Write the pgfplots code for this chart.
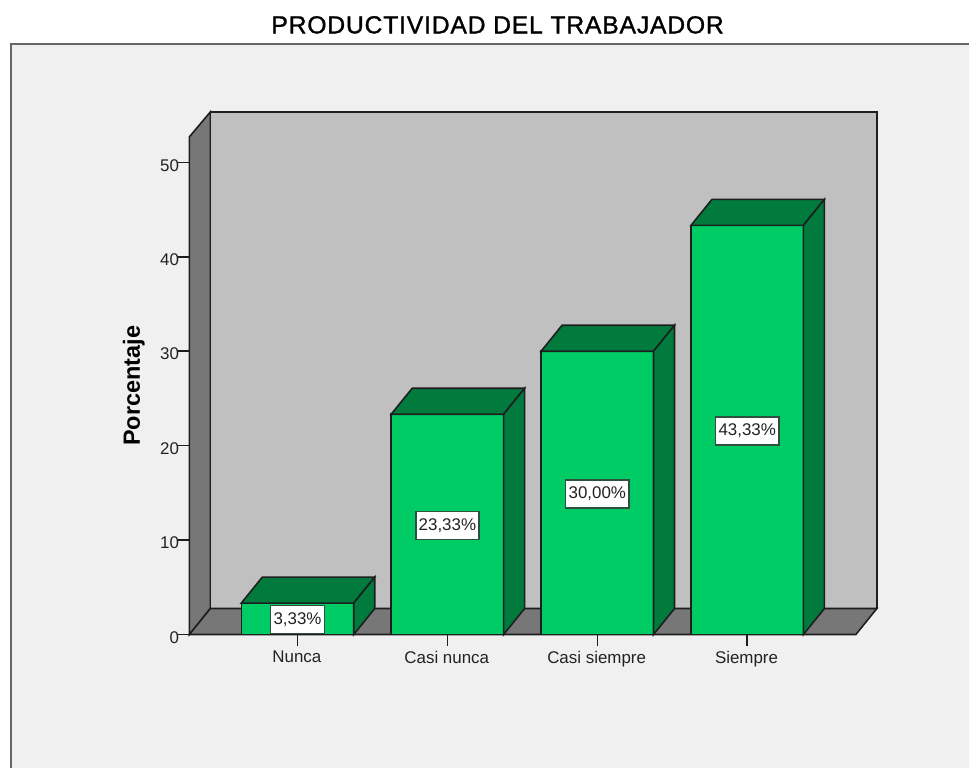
\documentclass[border=0pt]{standalone}
\usepackage{pgfplots}
\usepackage{pgfplotstable}
\pgfplotsset{compat=1.18}
\usepackage{fontspec}
\setmainfont{Liberation Sans}
\newfontfamily\titlefont[FakeBold=1.2,LetterSpace=3.4]{Liberation Sans}
\definecolor{bgc}{HTML}{F0F0F0}
\definecolor{wallc}{HTML}{C0C0C0}
\definecolor{sidec}{HTML}{777777}
\definecolor{barf}{HTML}{00CC66}
\definecolor{bard}{HTML}{007A3D}
\definecolor{linec}{HTML}{1E1E1E}
\definecolor{framec}{HTML}{666666}
\definecolor{txt}{HTML}{222222}
\definecolor{boxc}{HTML}{2F4F3F}
\pgfplotstableread{
x v label
0 3.33 3,33
1 23.33 23,33
2 30.00 30,00
3 43.33 43,33
}\bardata
\begin{document}
\begin{tikzpicture}
\fill[white] (0pt,0pt) rectangle (727.5pt,576.75pt);
\fill[bgc] (8.25pt,0pt) rectangle (727.5pt,543.75pt);
\draw[framec,line width=1.1pt] (8.25pt,0pt) -- (8.25pt,543.75pt) -- (727.5pt,543.75pt);
\begin{axis}[
  at={(142.125pt,100.5pt)},anchor=south west,
  scale only axis,width=500.25pt,height=373.5pt,
  xmin=-0.7217,xmax=3.725,ymin=0,ymax=52.7,
  clip=false,
  axis x line*=bottom,axis y line*=left,
  axis line style={linec,line width=1.2pt,-},
  xtick={0,1,2,3},
  xticklabels={Nunca,Casi nunca,Casi siempre,Siempre},
  ytick={0,10,20,30,40,50},
  tick style={linec,line width=1.2pt},
  tickwidth=8.25pt,
  tick align=outside,
  /pgf/number format/assume math mode=true,
  tick label style={font=\fontsize{12.7}{14}\selectfont,text=txt},
  xticklabel style={yshift=-0.5pt,xshift=-0.5pt},
  yticklabel style={xshift=4pt,yshift=-2.2pt},
  title={\titlefont PRODUCTIVIDAD DEL TRABAJADOR},
  title style={at={(rel axis cs:0.4625,1.209)},anchor=center,font=\fontsize{18.5}{20}\selectfont,text=black},
  ylabel={\textbf{Porcentaje}},
  ylabel style={at={(rel axis cs:-0.0832,0.5)},anchor=center,font=\fontsize{17.6}{19}\selectfont,text=black},
]
% walls
\addplot[fill=sidec,draw=linec,line width=1.2pt] coordinates {(-0.7217,0) (-0.7217,52.7) (-0.5817,55.34) (-0.5817,2.75)} --cycle;
\addplot[fill=wallc,draw=linec,line width=1.2pt] coordinates {(-0.5817,2.75) (-0.5817,55.34) (3.865,55.34) (3.865,2.75)} --cycle;
\addplot[fill=sidec,draw=linec,line width=1.2pt] coordinates {(-0.7217,0) (3.725,0) (3.865,2.75) (-0.5817,2.75)} --cycle;
% bar faces
\addplot[ybar,bar width=84.4pt,fill=barf,draw=linec,line width=1.2pt] table[x=x,y=v] {\bardata};
% bar tops
\addplot[fill=bard,draw=linec,line width=1.2pt] coordinates {(-0.375,3.33) (0.375,3.33) (0.515,6.08) (-0.235,6.08)} --cycle;
\addplot[fill=bard,draw=linec,line width=1.2pt] coordinates {(0.625,23.33) (1.375,23.33) (1.515,26.08) (0.765,26.08)} --cycle;
\addplot[fill=bard,draw=linec,line width=1.2pt] coordinates {(1.625,30) (2.375,30) (2.515,32.75) (1.765,32.75)} --cycle;
\addplot[fill=bard,draw=linec,line width=1.2pt] coordinates {(2.625,43.33) (3.375,43.33) (3.515,46.08) (2.765,46.08)} --cycle;
% bar sides
\addplot[fill=bard,draw=linec,line width=1.2pt] coordinates {(0.375,0) (0.515,2.75) (0.515,6.08) (0.375,3.33)} --cycle;
\addplot[fill=bard,draw=linec,line width=1.2pt] coordinates {(1.375,0) (1.515,2.75) (1.515,26.08) (1.375,23.33)} --cycle;
\addplot[fill=bard,draw=linec,line width=1.2pt] coordinates {(2.375,0) (2.515,2.75) (2.515,32.75) (2.375,30)} --cycle;
\addplot[fill=bard,draw=linec,line width=1.2pt] coordinates {(3.375,0) (3.515,2.75) (3.515,46.08) (3.375,43.33)} --cycle;
% value labels
\addplot[draw=none,mark=none,point meta=explicit symbolic,
  nodes near coords={\pgfplotspointmeta\%},
  nodes near coords align={center},
  every node near coord/.style={fill=white,draw=boxc,line width=1.1pt,inner xsep=2.2pt,inner ysep=0pt,
    minimum height=21pt,anchor=center,text=txt,yshift=-0.7pt,
    font=\fontsize{12.7}{14}\selectfont}]
  table[x=x,y expr=\thisrow{v}/2,meta=label] {\bardata};
\end{axis}
\end{tikzpicture}
\end{document}
